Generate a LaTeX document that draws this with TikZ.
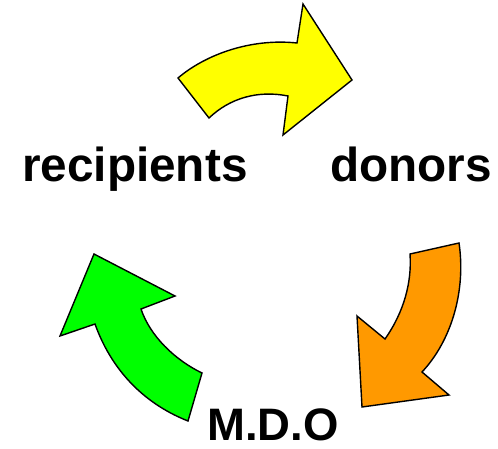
\documentclass[tikz,border=0pt]{standalone}
\usepackage{fontspec}
\setmainfont{Liberation Sans}
\definecolor{arrYellow}{RGB}{255,255,0}
\definecolor{arrOrange}{RGB}{255,153,0}
\definecolor{arrGreen}{RGB}{0,255,0}
\tikzset{
  bigarrow/.style={draw=black, line width=1.4pt, line join=miter},
  lbl/.style={anchor=base west, inner sep=0pt, font=\bfseries\fontsize{47.7}{50}\selectfont},
  lblsmall/.style={anchor=base west, inner sep=0pt, font=\bfseries\fontsize{45.5}{48}\selectfont}
}
\begin{document}
\begin{tikzpicture}[x=1pt,y=-1pt]
\useasboundingbox (0,0) rectangle (498,449);
% yellow arrow
\fill[arrYellow, bigarrow] (178,78) .. controls (205,55) and (250,38) .. (297,43)
  -- (303,4) -- (352,80) -- (283,135) -- (288,96)
  .. controls (258,90) and (230,98) .. (209,118) -- cycle;
% orange arrow
\fill[arrOrange, bigarrow] (410,254) -- (459,243)
  .. controls (466,290) and (452,340) .. (422,372)
  -- (449,395) -- (362,407) -- (357,316) -- (385,339)
  .. controls (404,312) and (412,282) .. (410,254) -- cycle;
% green arrow
\fill[arrGreen, bigarrow] (94,254) -- (175,296) -- (141,309)
  .. controls (150,336) and (175,360) .. (202,373)
  -- (188,421)
  .. controls (140,402) and (110,366) .. (95,324)
  -- (60,336) -- cycle;
% labels
\node[lbl] (recip) at (22,181.5) {recipients};
\node[lbl] (donors) at (330,181.5) {donors};
\node[lblsmall] (mdo) at (207,440) {M.D.O};
\end{tikzpicture}
\end{document}
